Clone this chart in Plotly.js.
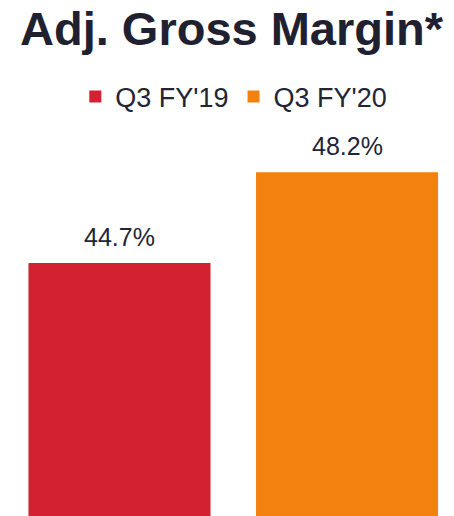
<!DOCTYPE html>
<html>
<head>
<meta charset="utf-8">
<script src="https://cdn.plot.ly/plotly-3.0.1.min.js"></script>
<style>html,body{margin:0;padding:0;background:#fff;}#chart{width:454px;height:516px;}</style>
</head>
<body>
<div id="chart"></div>
<script>
const categories = ["Q3 FY'19", "Q3 FY'20"];
const values = [44.7, 48.2];
const colors = ["#D42132", "#F38110"];
const titleText = "Adj. Gross Margin*";

const traces = categories.map((c, i) => ({
  type: 'bar',
  name: c,
  x: [c],
  y: [values[i]],
  width: 0.8,
  marker: {color: colors[i], line: {width: 0}},
  hoverinfo: 'skip'
}));

const annotations = categories.map((c, i) => ({
  x: c, y: values[i], xref: 'x', yref: 'y',
  text: values[i].toFixed(1) + '%',
  showarrow: false, yanchor: 'bottom', yshift: 10,
  font: {family: 'Liberation Sans, Arial, sans-serif', size: 25, color: '#222534'}
}));

const layout = {
  width: 454, height: 516,
  margin: {l: 0, r: 0, t: 120, b: 0},
  paper_bgcolor: '#fff', plot_bgcolor: '#fff',
  title: {
    text: '<b>' + titleText + '</b>',
    font: {family: 'Liberation Sans, Arial, sans-serif', size: 47, color: '#1F2130'},
    x: 0.51, xanchor: 'center', xref: 'paper',
    y: 0.945, yanchor: 'middle', yref: 'container'
  },
  showlegend: true,
  legend: {
    orientation: 'h', x: 0.515, xanchor: 'center',
    y: 0.812, yanchor: 'middle', yref: 'container',
    font: {family: 'Liberation Sans, Arial, sans-serif', size: 27, color: '#222534'},
    itemwidth: 30, tracegroupgap: 0
  },
  barmode: 'overlay',
  xaxis: {
    type: 'category', range: [-0.525, 1.47],
    showgrid: false, zeroline: false, showticklabels: false, showline: false, ticks: ''
  },
  yaxis: {
    range: [34.93, 34.93 + 396 / 26],
    showgrid: false, zeroline: false, showticklabels: false, showline: false, ticks: ''
  },
  annotations: annotations
};

Plotly.newPlot('chart', traces, layout, {displayModeBar: false, staticPlot: true});
</script>
</body>
</html>
